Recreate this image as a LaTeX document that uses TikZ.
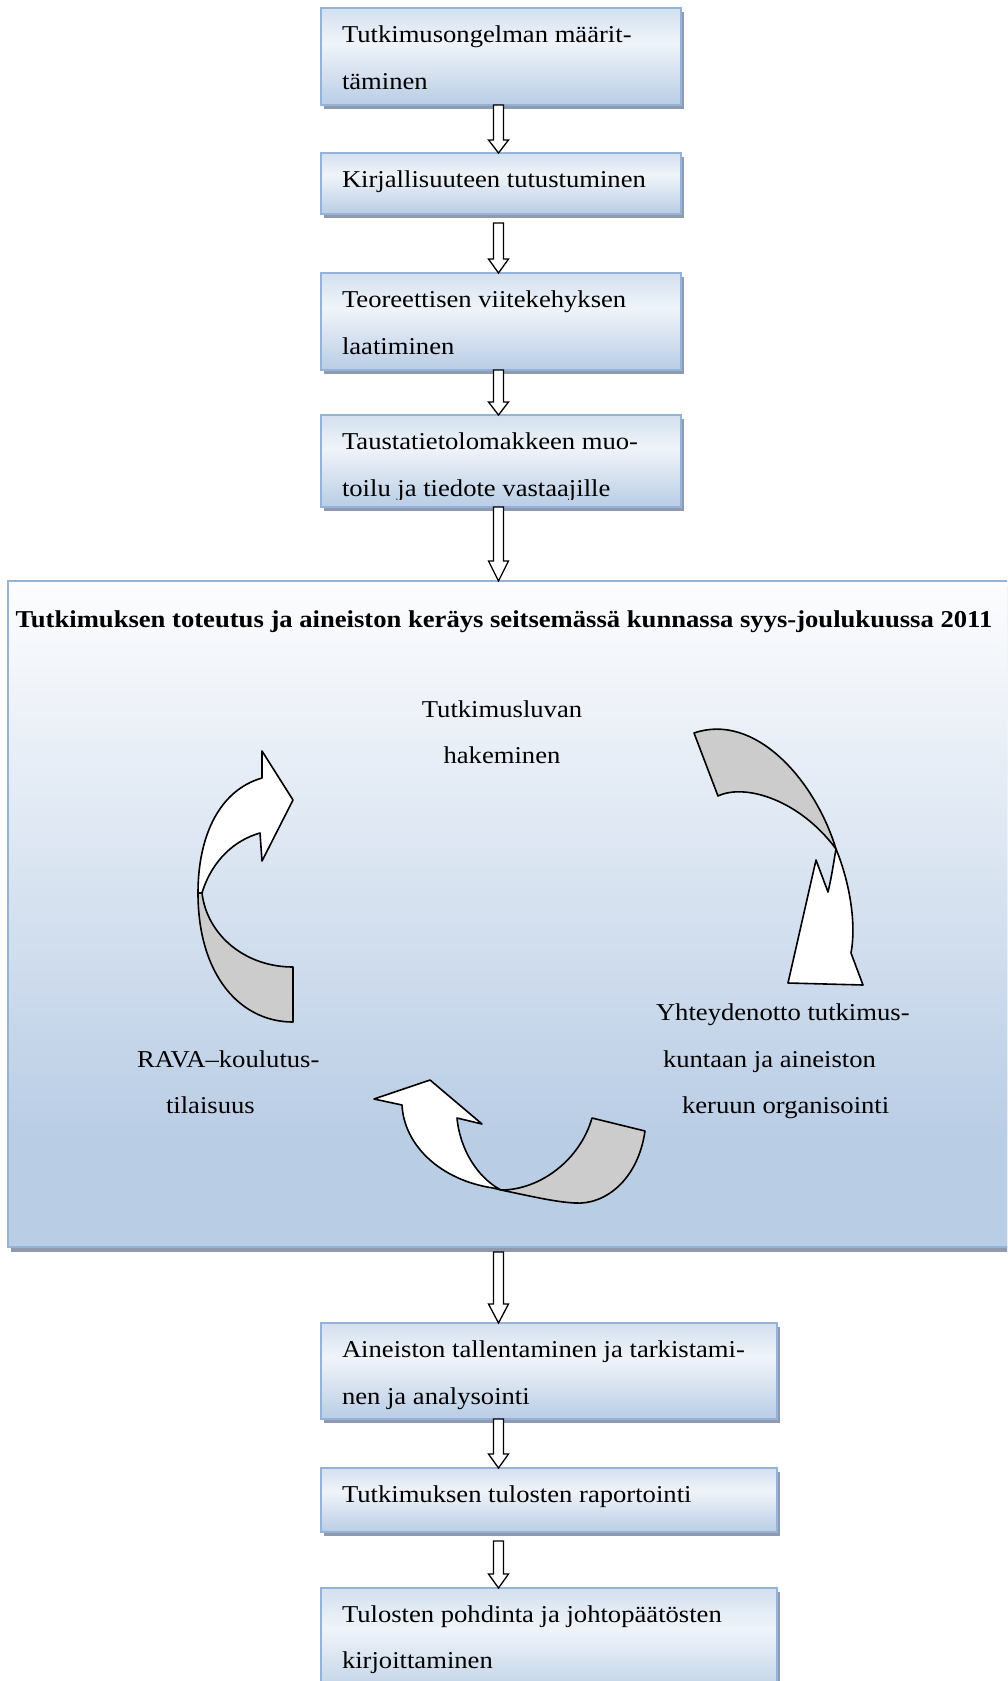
\documentclass[tikz,border=0pt]{standalone}
\usepackage{fontspec}
\setmainfont{Liberation Serif}[FakeStretch=1.1]
\usetikzlibrary{calc,shadows}
\definecolor{bord}{HTML}{95B3D7}
\definecolor{shd}{HTML}{8F9BAC}
\definecolor{bxT}{HTML}{D3E0EF}
\definecolor{bxM}{HTML}{F0F4F9}
\definecolor{bxB}{HTML}{B9CDE5}
\definecolor{bgT}{HTML}{FDFDFE}
\definecolor{bgB}{HTML}{B9CDE5}
\definecolor{grayband}{HTML}{CCCCCC}
\pgfdeclareverticalshading{boxgrad}{100bp}{color(0bp)=(bxB); color(25bp)=(bxB); color(57bp)=(bxM); color(75bp)=(bxT); color(100bp)=(bxT)}
\pgfdeclareverticalshading{biggrad}{100bp}{color(0bp)=(bgB); color(25bp)=(bgB); color(33bp)=(bgB); color(75bp)=(bgT); color(100bp)=(bgT)}
\tikzset{
  stepbox/.style={draw=bord, line width=2pt, shading=boxgrad, inner sep=0pt, outer sep=0pt,
    general shadow={fill=shd, shadow xshift=3pt, shadow yshift=-4pt}},
  bigbox/.style={draw=bord, line width=2pt, shading=biggrad, inner sep=0pt, outer sep=0pt,
    general shadow={fill=shd, shadow xshift=3pt, shadow yshift=-5pt}},
  lbl/.style={font=\fontsize{24.2}{46}\selectfont, inner sep=0pt, outer sep=0pt, anchor=base west},
  blk/.style={draw=black, fill=white, line width=1.3pt, line join=miter},
  curv/.style={draw=black, line width=1.6pt, line join=round}
}
\newcommand\blockarrow[3]{\draw[blk] let \p1=#1, \p2=#2 in (\x1-5pt,\y1) -- (\x1+5pt,\y1) -- (\x1+5pt,\y2+#3pt) -- (\x1+10pt,\y2+#3pt) -- (\x1,\y2) -- (\x1-10pt,\y2+#3pt) -- (\x1-5pt,\y2+#3pt) -- cycle;}
\begin{document}
\begin{tikzpicture}[x=1pt,y=-1pt]
\useasboundingbox (0,0) rectangle (1007,1681);
\clip (0,0) rectangle (1007,1681);
\coordinate (ax) at (498.5,0);
% boxes
\node[stepbox, minimum width=360pt, minimum height=97pt] (b1) at (501,56.5) {};
\node[stepbox, minimum width=360pt, minimum height=61pt] (b2) at (501,183.5) {};
\node[stepbox, minimum width=360pt, minimum height=97pt] (b3) at (501,321.5) {};
\node[stepbox, minimum width=360pt, minimum height=92pt] (b4) at (501,461) {};
\node[bigbox, minimum width=1007pt, minimum height=666pt] (big) at (511.5,914) {};
\node[stepbox, minimum width=456pt, minimum height=96pt] (b5) at (549,1371) {};
\node[stepbox, minimum width=456pt, minimum height=64pt] (b6) at (549,1500) {};
\node[stepbox, minimum width=456pt, minimum height=112pt] (b7) at (549,1644) {};
% texts
\node[lbl] (t1a) at (342,42) {Tutkimusongelman määrit-};
\node[lbl] (t1b) at (342,89) {täminen};
\node[lbl] (t2) at (342,187) {Kirjallisuuteen tutustuminen};
\node[lbl] (t3a) at (342,307) {Teoreettisen viitekehyksen};
\node[lbl] (t3b) at (342,354) {laatiminen};
\node[lbl] (t4a) at (342,449) {Taustatietolomakkeen muo-};
\begin{scope}
\clip (321,415) rectangle (681,499);
\node[lbl] (t4b) at (342,496) {toilu ja tiedote vastaajille};
\end{scope}
\node[lbl, anchor=base, font=\fontsize{24.2}{46}\selectfont\bfseries] (ttl) at (504,627) {Tutkimuksen toteutus ja aineiston keräys seitsemässä kunnassa syys-joulukuussa 2011};
\node[lbl, anchor=base] (c1a) at (502,717) {Tutkimusluvan};
\node[lbl, anchor=base] (c1b) at (502,763) {hakeminen};
\node[lbl] (c2a) at (656,1020) {Yhteydenotto tutkimus-};
\node[lbl] (c2b) at (663,1067) {kuntaan ja aineiston};
\node[lbl] (c2c) at (682,1113) {keruun organisointi};
\node[lbl] (c3a) at (137,1067) {RAVA–koulutus-};
\node[lbl] (c3b) at (166,1113) {tilaisuus};
\node[lbl] (t5a) at (342,1357) {Aineiston tallentaminen ja tarkistami-};
\node[lbl] (t5b) at (342,1404) {nen ja analysointi};
\node[lbl] (t6) at (342,1502) {Tutkimuksen tulosten raportointi};
\node[lbl] (t7a) at (342,1622) {Tulosten pohdinta ja johtopäätösten};
\node[lbl] (t7b) at (342,1668) {kirjoittaminen};
% block arrows
\blockarrow{(b1.south -| ax)}{(b2.north -| ax)}{13}
\blockarrow{($(b2.south -| ax)+(0,9)$)}{(b3.north -| ax)}{14}
\blockarrow{(b3.south -| ax)}{(b4.north -| ax)}{13}
\blockarrow{(b4.south -| ax)}{(big.north -| ax)}{20}
\blockarrow{($(big.south -| ax)+(0,5)$)}{(b5.north -| ax)}{19}
\blockarrow{(b5.south -| ax)}{(b6.north -| ax)}{14}
\blockarrow{($(b6.south -| ax)+(0,9)$)}{(b7.north -| ax)}{14}
% left curved arrow
\draw[curv, fill=white] (198,893) .. controls (198,835) and (220,790) .. (262,778) -- (262,751) -- (293,800) -- (262,861) -- (260,833) .. controls (235,840) and (212,860) .. (202,893) -- cycle;
\draw[curv, fill=grayband] (198,893) .. controls (198,975) and (240,1022) .. (293,1022) -- (293,967) .. controls (245,967) and (207,935) .. (202,893) -- cycle;
% right curved arrow
\draw[curv, fill=grayband] (694,733) .. controls (755,712) and (815,780) .. (836,849) .. controls (800,800) and (745,783) .. (718,796) -- cycle;
\draw[curv, fill=white] (836,849) .. controls (848,878) and (857,920) .. (851,953) -- (863,985) -- (788,983) -- (816,860) -- (828,892) .. controls (832,875) and (834,860) .. (836,849) -- cycle;
% bottom curved arrow
\draw[curv, fill=white] (402,1105) -- (374,1099) -- (430,1080) -- (482,1124) -- (457,1118) .. controls (460,1150) and (478,1178) .. (501,1190) -- (493,1188) .. controls (440,1180) and (404,1145) .. (402,1105) -- cycle;
\draw[curv, fill=grayband] (501,1190) .. controls (540,1190) and (580,1160) .. (592,1118) -- (645,1131) .. controls (638,1180) and (605,1205) .. (575,1203) .. controls (555,1202) and (530,1196) .. (501,1190) -- cycle;
\end{tikzpicture}
\end{document}
